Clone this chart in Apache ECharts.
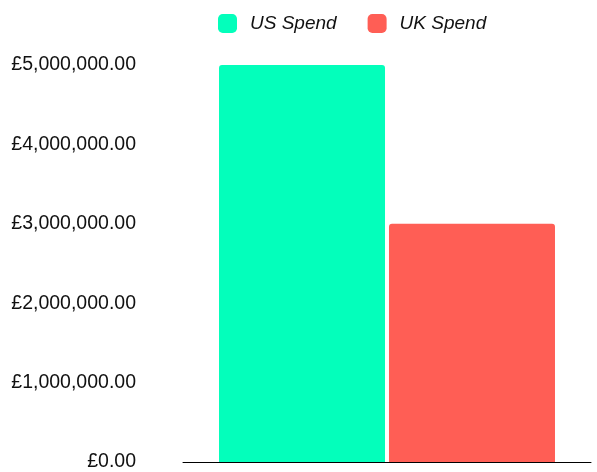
<!DOCTYPE html>
<html>
<head>
<meta charset="utf-8">
<script src="https://cdn.jsdelivr.net/npm/echarts@6/dist/echarts.min.js"></script>
<style>
html,body{margin:0;padding:0;background:#fff;}
#chart{width:597px;height:472px;}
</style>
</head>
<body>
<div id="chart"></div>
<script>
const categories = ['Spend'];
const seriesNames = ['US Spend', 'UK Spend'];
const usSpend = [5000000];
const ukSpend = [3000000];
const seriesColors = ['#03ffbb', '#ff5e55'];

function fmt(v) {
  return '£' + Number(v).toLocaleString('en-GB', {minimumFractionDigits: 2, maximumFractionDigits: 2});
}

const chart = echarts.init(document.getElementById('chart'), null, {renderer: 'canvas'});
chart.setOption({
  animation: false,
  textStyle: {fontFamily: '"Liberation Sans", Arial, sans-serif'},
  legend: {
    left: 213,
    top: 9,
    itemWidth: 19,
    itemHeight: 19,
    itemGap: 31,
    icon: 'roundRect',
    textStyle: {fontSize: 19, fontStyle: 'italic', color: '#111', padding: [0, 0, 0, 8]},
    data: seriesNames
  },
  grid: {left: 183, right: 6, top: 65, bottom: 6, containLabel: false},
  xAxis: {
    type: 'category',
    data: categories,
    axisLine: {show: true, lineStyle: {color: '#000', width: 1}},
    axisTick: {show: false},
    axisLabel: {show: false}
  },
  yAxis: {
    type: 'value',
    min: 0,
    max: 5000000,
    interval: 1000000,
    splitLine: {show: false},
    axisLine: {show: false},
    axisTick: {show: false},
    axisLabel: {
      margin: 47,
      fontSize: 19.5,
      color: '#111',
      formatter: fmt
    }
  },
  series: [
    {
      name: seriesNames[0], type: 'bar', data: usSpend,
      barWidth: 166, barGap: '2.4%',
      itemStyle: {color: seriesColors[0], borderRadius: [3, 3, 0, 0]}
    },
    {
      name: seriesNames[1], type: 'bar', data: ukSpend,
      barWidth: 166, barGap: '2.4%',
      itemStyle: {color: seriesColors[1], borderRadius: [3, 3, 0, 0]}
    }
  ]
});
</script>
</body>
</html>
